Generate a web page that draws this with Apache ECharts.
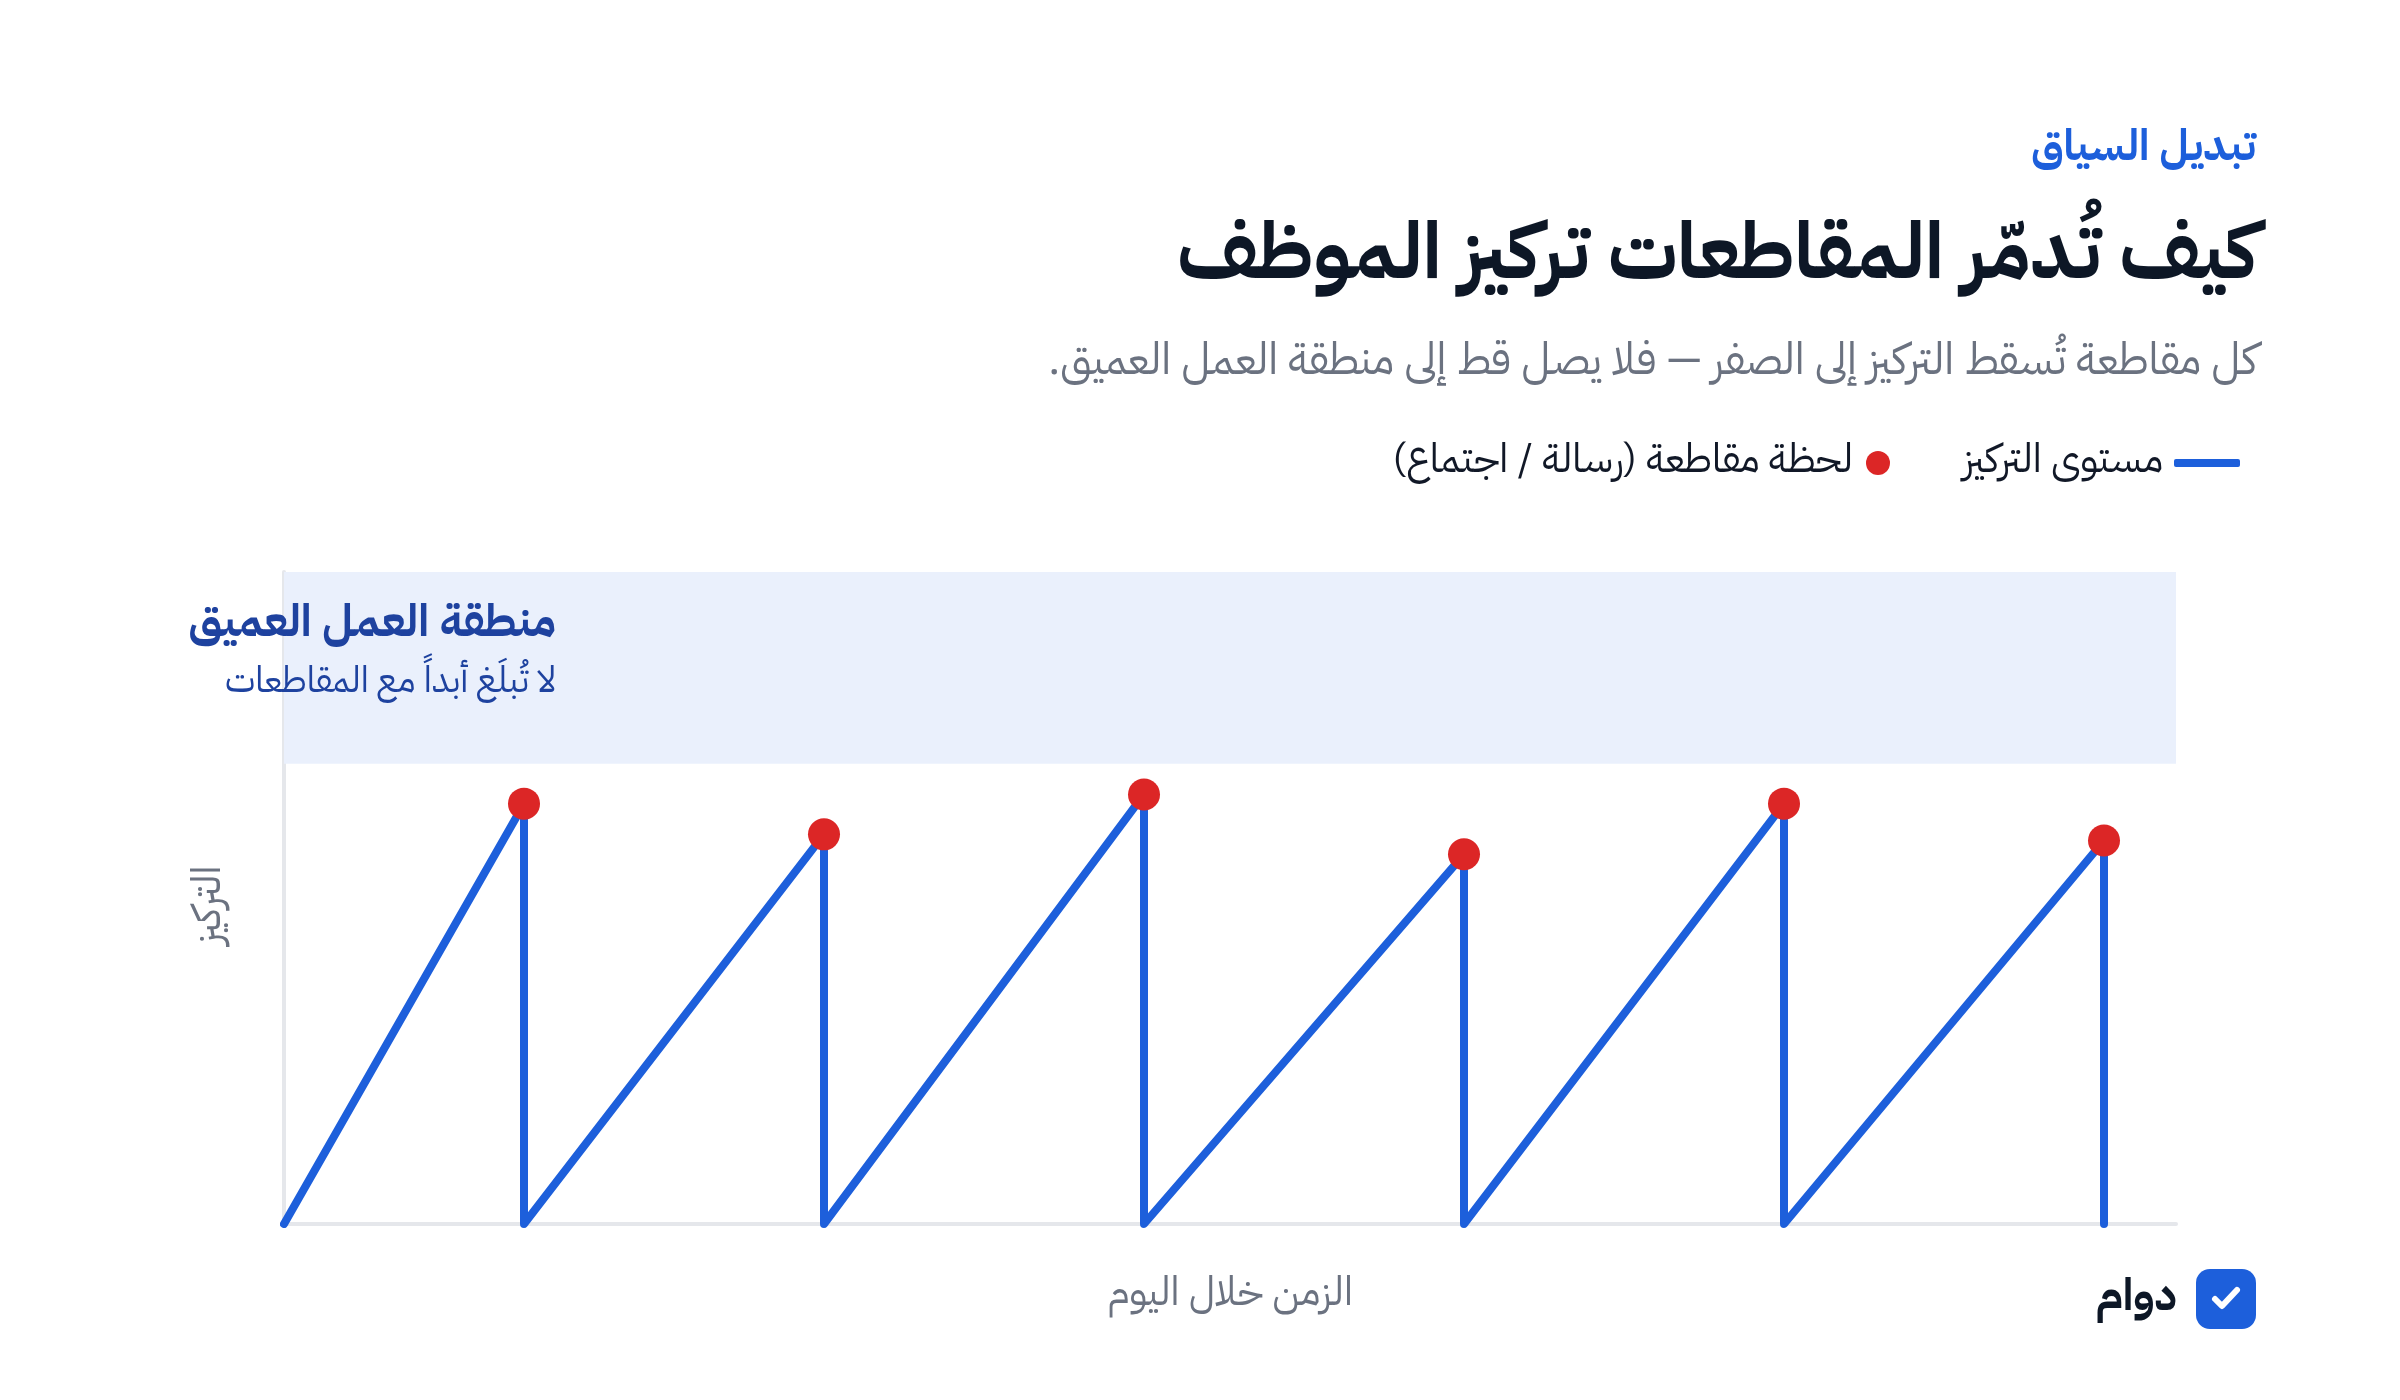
<!DOCTYPE html>
<html lang="ar" dir="rtl"><head><meta charset="utf-8">
<style>html,body{margin:0;padding:0;background:#fff}#c{width:2400px;height:1400px}</style>
<script src="https://cdn.jsdelivr.net/npm/echarts@6/dist/echarts.min.js"></script></head>
<body><div id="c"></div>
<script>
const interruptTimes = [12, 27, 43, 59, 75, 91];
const peakLevels = [54.8, 50.8, 56, 48.2, 54.8, 50];
const startTime = 0;
const deepWorkFloor = 60;
const axisMaxX = 94.6;
const axisMaxY = 85;
const kicker = 'تبديل السياق';
const titleText = 'كيف تُدمّر المقاطعات تركيز الموظف';
const subtitle = 'كل مقاطعة تُسقط التركيز إلى الصفر — فلا يصل قط إلى منطقة العمل العميق.';
const seriesFocus = 'مستوى التركيز';
const seriesInterrupt = 'لحظة مقاطعة (رسالة / اجتماع)';
const zoneTitle = 'منطقة العمل العميق';
const zoneSub = 'لا تُبلَغ أبداً مع المقاطعات';
const yName = 'التركيز';
const xName = 'الزمن خلال اليوم';
const badge = 'دوام';

const FF = '"IBM Plex Sans Arabic","Noto Sans Arabic","Noto Sans",sans-serif';
const BLUE = '#1d5fdb';
const linePts = [[startTime, 0]];
interruptTimes.forEach((t, i) => { linePts.push([t, peakLevels[i]]); linePts.push([t, 0]); });
const dots = interruptTimes.map((t, i) => [t, peakLevels[i]]);

const chart = echarts.init(document.getElementById('c'), null, {renderer: 'canvas'});
const T = (text, right, y, size, weight, color) => ({
  text, right, top: y, padding: 0,
  textStyle: {fontFamily: FF, fontSize: size, fontWeight: weight, color, lineHeight: size * 1.3}
});
chart.setOption({
  animation: false,
  backgroundColor: '#fff',
  title: [
    T(kicker, 144, 122, 43, 700, BLUE),
    T(titleText, 143, 209, 78.5, 700, '#0d1726'),
    T(subtitle, 143, 336, 44, 400, '#6b7280'),
    T(zoneTitle, 1844, 597, 45, 700, '#1e429f'),
    T(zoneSub, 1844, 661, 36, 400, '#1e429f')
  ],
  legend: [
    {
      right: 160, top: 443, padding: 0, align: 'right', itemWidth: 66, itemHeight: 8,
      textStyle: {fontFamily: FF, fontSize: 40, color: '#111827', padding: [0, 6, 0, 0]},
      data: [{name: seriesFocus, icon: 'roundRect', itemStyle: {color: BLUE}}]
    },
    {
      right: 510, top: 443, padding: 0, align: 'right', itemWidth: 24, itemHeight: 24,
      textStyle: {fontFamily: FF, fontSize: 40, color: '#111827', padding: [0, 8, 0, 0]},
      data: [{name: seriesInterrupt, icon: 'circle', itemStyle: {color: '#dc2626'}}]
    }
  ],
  grid: {left: 284, right: 224, top: 572, bottom: 176, containLabel: false},
  xAxis: {
    type: 'value', min: 0, max: axisMaxX,
    name: xName, nameLocation: 'middle', nameGap: 52,
    nameTextStyle: {fontFamily: FF, fontSize: 40, color: '#6b7280'},
    axisLine: {show: true, lineStyle: {color: '#e5e7eb', width: 4}},
    axisTick: {show: false}, axisLabel: {show: false}, splitLine: {show: false}
  },
  yAxis: {
    type: 'value', min: 0, max: axisMaxY,
    name: yName, nameLocation: 'middle', nameGap: 53,
    nameTextStyle: {fontFamily: FF, fontSize: 40, color: '#6b7280', padding: [0, 14, 0, 0]},
    axisLine: {show: true, lineStyle: {color: '#e5e7eb', width: 4}},
    axisTick: {show: false}, axisLabel: {show: false}, splitLine: {show: false}
  },
  series: [
    {
      name: seriesFocus, type: 'line', data: linePts, symbol: 'none', z: 3,
      lineStyle: {color: BLUE, width: 8, join: 'round', cap: 'round'},
      itemStyle: {color: BLUE},
      markArea: {
        silent: true, itemStyle: {color: '#eaf0fc', opacity: 1},
        data: [[{yAxis: deepWorkFloor}, {yAxis: axisMaxY}]]
      }
    },
    {
      name: seriesInterrupt, type: 'scatter', data: dots, symbolSize: 32, z: 4,
      itemStyle: {color: '#dc2626', opacity: 1}
    }
  ],
  graphic: [
    {type: 'rect', shape: {x: 2196, y: 1269, width: 60, height: 60, r: 14}, style: {fill: BLUE}, z: 10},
    {type: 'polyline', shape: {points: [[2215, 1299], [2222, 1306], [2237, 1290]]},
      style: {stroke: '#fff', lineWidth: 6, fill: null, lineCap: 'round', lineJoin: 'round'}, z: 11},
    {type: 'text', x: 2177, y: 1300, z: 10,
      style: {text: badge, align: 'right', verticalAlign: 'middle', fill: '#0d1726',
        font: '700 44px ' + FF}}
  ]
});
</script></body></html>
